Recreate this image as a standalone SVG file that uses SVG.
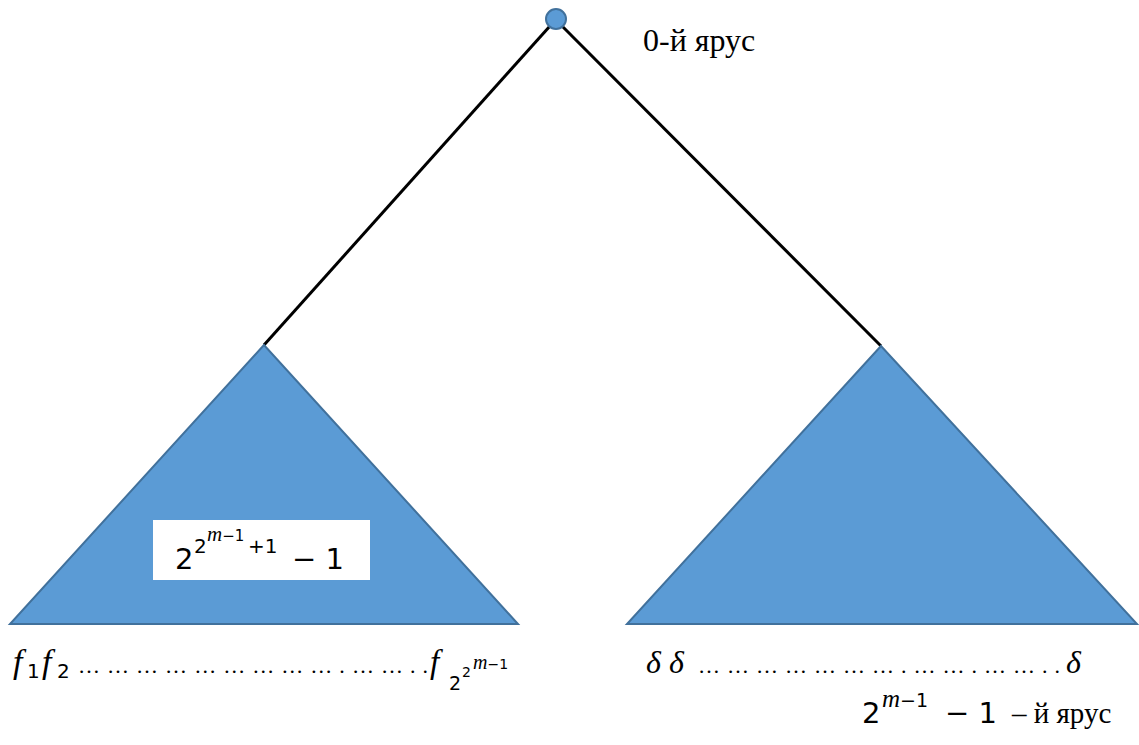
<svg xmlns="http://www.w3.org/2000/svg" width="1139" height="745" viewBox="0 0 1139 745">
<style>
.tri{fill:#5B9BD5;stroke:#41719C;stroke-width:2}
.edge{stroke:#000;stroke-width:3;fill:none}
.i{font-style:italic}
.dots{font-family:"Liberation Serif",serif;font-size:22px;word-spacing:2px}
</style>
<rect width="1139" height="745" fill="#fff"/>
<g id="connectors">
<line class="edge" x1="550" y1="26" x2="264" y2="345"/>
<line class="edge" x1="562" y1="26" x2="881" y2="346"/>
</g>
<g id="root">
<circle cx="556" cy="19" r="10" fill="#5B9BD5" stroke="#41719C" stroke-width="2"/>
</g>
<g id="label-top" font-family="Liberation Serif, serif">
<text x="643" y="51" font-size="32">0-й ярус</text>
</g>
<g id="left-tree" font-family="DejaVu Sans, sans-serif">
<polygon class="tri" points="264,345 10,624 518,624"/>
<rect x="153" y="520" width="217" height="60" fill="#fff"/>
<text x="175" y="569" font-size="29">2</text>
<text x="194" y="553" font-size="20">2</text>
<text x="207" y="541" font-size="15"><tspan class="i" font-family="Liberation Serif, serif" font-size="21">m</tspan>−1</text>
<text x="248" y="553" font-size="20">+1</text>
<text x="292" y="569" font-size="29">− 1</text>
</g>
<g id="left-leaves" font-family="DejaVu Sans, sans-serif">
<text y="673" font-size="29"><tspan class="i" x="13" font-family="Liberation Serif, serif" font-size="34">f</tspan><tspan x="27" font-size="20" dy="5">1</tspan><tspan class="i" x="42" font-family="Liberation Serif, serif" font-size="34" dy="-5">f</tspan><tspan x="57" font-size="20" dy="5">2</tspan></text>
<text class="dots" x="78" y="673" textLength="350" lengthAdjust="spacing">… … … … … … … … … . … … . .</text>
<text class="i" x="430" y="673" font-size="33" font-family="Liberation Serif, serif">f</text>
<text x="449" y="690" font-size="19">2</text>
<text x="462" y="677" font-size="14">2</text>
<text x="473" y="669" font-size="14"><tspan class="i" font-family="Liberation Serif, serif" font-size="20">m</tspan>−1</text>
</g>
<g id="right-tree">
<polygon class="tri" points="881,346 627,624 1137,624"/>
</g>
<g id="right-leaves" font-family="DejaVu Sans, sans-serif">
<text class="i" x="646" y="673" font-size="32" font-family="Liberation Serif, serif">δ δ</text>
<text class="dots" x="698" y="673" textLength="362" lengthAdjust="spacing">… … … … … … … . … … . … … . .</text>
<text class="i" x="1066" y="673" font-size="32" font-family="Liberation Serif, serif">δ</text>
</g>
<g id="label-bottom" font-family="DejaVu Sans, sans-serif">
<text x="862" y="723" font-size="29">2</text>
<text x="882" y="707" font-size="19"><tspan class="i" font-family="Liberation Serif, serif" font-size="25">m</tspan>−1</text>
<text x="945" y="723" font-size="29">− 1</text>
<text x="1012" y="723" font-size="29" font-family="Liberation Serif, serif">– й ярус</text>
</g>
</svg>
